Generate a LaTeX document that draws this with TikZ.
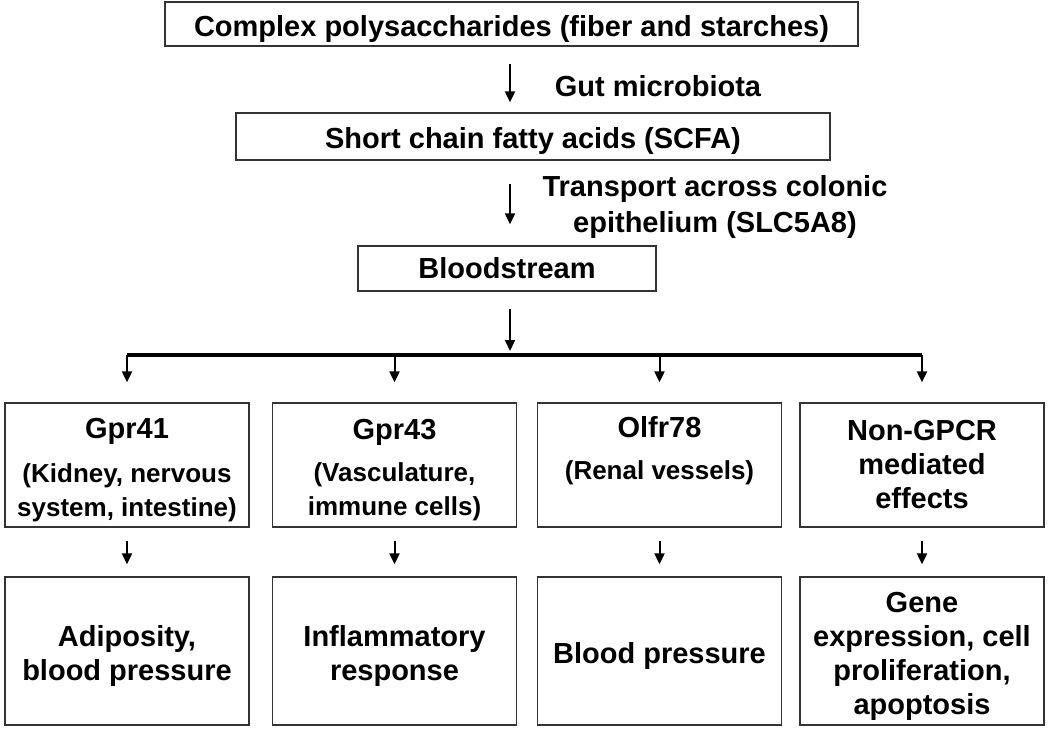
\documentclass[tikz,border=0pt]{standalone}
\usepackage{fontspec}
\setmainfont{Liberation Sans}
\usetikzlibrary{arrows.meta}
\newcommand{\subsize}{\fontsize{26}{34}\selectfont}
\newcommand{\lift}{\rule{0pt}{31pt}}

\begin{document}
\begin{tikzpicture}[x=1pt,y=-1pt,
	font=\fontsize{29}{34}\selectfont\bfseries,
	box/.style={draw=black!80, line width=1.3pt, inner sep=0pt, align=center},
	midbox/.style={box, minimum width=244pt, minimum height=124pt},
	endbox/.style={box, minimum width=244pt, minimum height=148pt},
	flow/.style={-{Triangle[length=11pt,width=10pt]}, line width=2pt}]
	
	\useasboundingbox (0,0) rectangle (1050,736);
	
	%------------------------------
	% Upper chain
	%------------------------------
	\node[box, minimum width=693pt, minimum height=44pt] (poly) at (511.5,24)
	{\lift Complex polysaccharides (fiber and starches)};
	\node[box, minimum width=594pt, minimum height=47pt] (scfa) at (533,136.5)
	{\lift Short chain fatty acids (SCFA)};
	\node[box, minimum width=298pt, minimum height=45pt] (blood) at (507,268.5)
	{Bloodstream};
	
	% Side labels
	\node (gut) at (658,86) {Gut microbiota};
	\node[align=center] (trans) at (715,207) {Transport across colonic\\[2pt]epithelium (SLC5A8)};
	
	% Spine of the vertical arrows
	\coordinate (spine) at (510,0);
	\coordinate (bar) at (510,355);
	
	\draw[flow, shorten <=17pt, shorten >=10pt] (poly.south -| spine) -- (scfa.north -| spine);
	\draw[flow, shorten <=23pt, shorten >=21pt] (scfa.south -| spine) -- (blood.north -| spine);
	\draw[flow, shorten <=17pt, shorten >=4pt] (blood.south -| spine) -- (bar);
	
	%------------------------------
	% Receptors
	%------------------------------
	\node[midbox] (g41) at (127,465)
	{\lift Gpr41\\[10pt]\subsize (Kidney, nervous\\\subsize system,  intestine)};
	\node[midbox] (g43) at (394.5,465)
	{\lift Gpr43\\[8pt]\subsize (Vasculature,\\\subsize immune cells)};
	\node[midbox] (olf) at (659.5,465)
	{\lift Olfr78\\[8pt]\subsize (Renal vessels)\\\strut};
	\node[midbox] (ngpcr) at (922,465)
	{Non-GPCR\\mediated\\effects};
	
	% Branch bar
	\draw[line width=3.5pt] (g41.north |- bar) -- (ngpcr.north |- bar);
	\foreach \b in {g41,g43,olf,ngpcr}
	\draw[flow, shorten >=20pt] (\b.north |- bar) -- (\b.north);
	
	%------------------------------
	% Outcomes
	%------------------------------
	\node[endbox] (adip) at (127,651) {\lift Adiposity,\\blood pressure};
	\node[endbox] (infl) at (394.5,651) {\lift Inflammatory\\response};
	\node[endbox] (bp) at (659.5,651) {\lift Blood pressure};
	\node[endbox] (gene) at (922,651) {\lift Gene\\expression, cell\\proliferation,\\apoptosis};
	
	\foreach \a/\b in {g41/adip,g43/infl,olf/bp,ngpcr/gene}
	\draw[flow, shorten <=13pt, shorten >=12pt] (\a) -- (\b);
	
\end{tikzpicture}
\end{document}
